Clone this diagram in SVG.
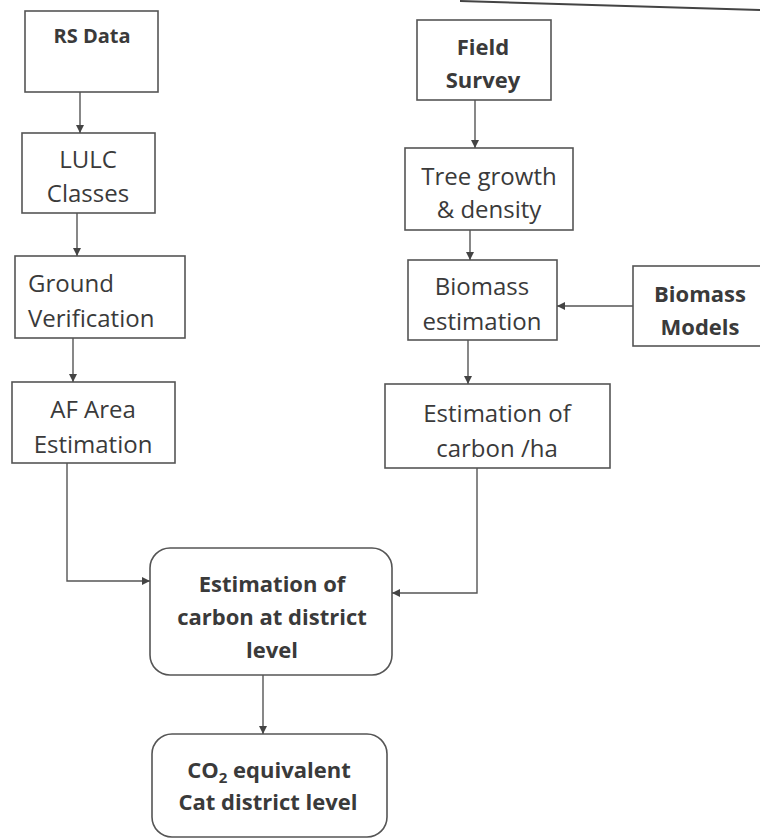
<svg xmlns="http://www.w3.org/2000/svg" width="760" height="840" viewBox="0 0 760 840">
<defs>
<marker id="ah" viewBox="0 0 10 10" refX="10" refY="5" markerWidth="8" markerHeight="8" markerUnits="userSpaceOnUse" orient="auto">
<path d="M0,0 L10,5 L0,10 z" fill="#444"/>
</marker>
<style>
.box{fill:#fff;stroke:#555;stroke-width:1.6}
.t{font-family:"Open Sans","Noto Sans",sans-serif;font-size:24px;fill:#3a3a3a;text-anchor:middle}
.b{font-family:"Open Sans","Noto Sans",sans-serif;font-size:22px;font-weight:bold;fill:#3a3a3a;text-anchor:middle}
.c{fill:none;stroke:#555;stroke-width:1.4;marker-end:url(#ah)}
</style>
</defs>
<rect width="760" height="840" fill="#fff"/>
<line x1="460" y1="1" x2="760" y2="10" stroke="#444" stroke-width="2"/>

<g id="rs-data">
<rect class="box" x="25" y="11" width="133" height="81"/>
<text class="b" x="92" y="43" style="font-size:20px">RS Data</text>
</g>
<g id="lulc">
<rect class="box" x="22" y="133" width="133" height="80"/>
<text class="t" x="88" y="168">LULC</text>
<text class="t" x="88" y="202">Classes</text>
</g>
<g id="ground">
<rect class="box" x="15" y="256" width="170" height="82"/>
<text class="t" x="28" y="292" style="text-anchor:start">Ground</text>
<text class="t" x="28" y="327" style="text-anchor:start">Verification</text>
</g>
<g id="af-area">
<rect class="box" x="12" y="382" width="163" height="81"/>
<text class="t" x="93" y="418">AF Area</text>
<text class="t" x="93" y="453">Estimation</text>
</g>
<g id="field-survey">
<rect class="box" x="417" y="20" width="134" height="80"/>
<text class="b" x="483" y="55">Field</text>
<text class="b" x="483" y="88">Survey</text>
</g>
<g id="tree-growth">
<rect class="box" x="405" y="148" width="168" height="82"/>
<text class="t" x="489" y="185">Tree growth</text>
<text class="t" x="489" y="218">&amp; density</text>
</g>
<g id="biomass-estimation">
<rect class="box" x="408" y="260" width="149" height="80"/>
<text class="t" x="482" y="295">Biomass</text>
<text class="t" x="482" y="330">estimation</text>
</g>
<g id="biomass-models">
<rect class="box" x="633" y="266" width="135" height="80"/>
<text class="b" x="700" y="302">Biomass</text>
<text class="b" x="700" y="335">Models</text>
</g>
<g id="carbon-ha">
<rect class="box" x="385" y="384" width="225" height="84"/>
<text class="t" x="497" y="422">Estimation of</text>
<text class="t" x="497" y="457">carbon /ha</text>
</g>
<g id="district">
<rect class="box" x="150" y="548" width="242" height="127" rx="20"/>
<text class="b" x="272" y="592">Estimation of</text>
<text class="b" x="272" y="625">carbon at district</text>
<text class="b" x="272" y="658">level</text>
</g>
<g id="co2">
<rect class="box" x="152" y="734" width="235" height="103" rx="20"/>
<text class="b" x="269" y="778">CO<tspan font-size="15" dy="5">2</tspan><tspan dy="-5"> equivalent</tspan></text>
<text class="b" x="268" y="810">Cat district level</text>
</g>

<g id="connectors">
<path class="c" d="M80,92 V133"/>
<path class="c" d="M77,213 V256"/>
<path class="c" d="M73,338 V382"/>
<path class="c" d="M67,463 V581 H150"/>
<path class="c" d="M475,100 V148"/>
<path class="c" d="M470,230 V260"/>
<path class="c" d="M633,306 H557"/>
<path class="c" d="M468,340 V384"/>
<path class="c" d="M477,468 V593 H392"/>
<path class="c" d="M263,675 V734"/>
</g>
</svg>
